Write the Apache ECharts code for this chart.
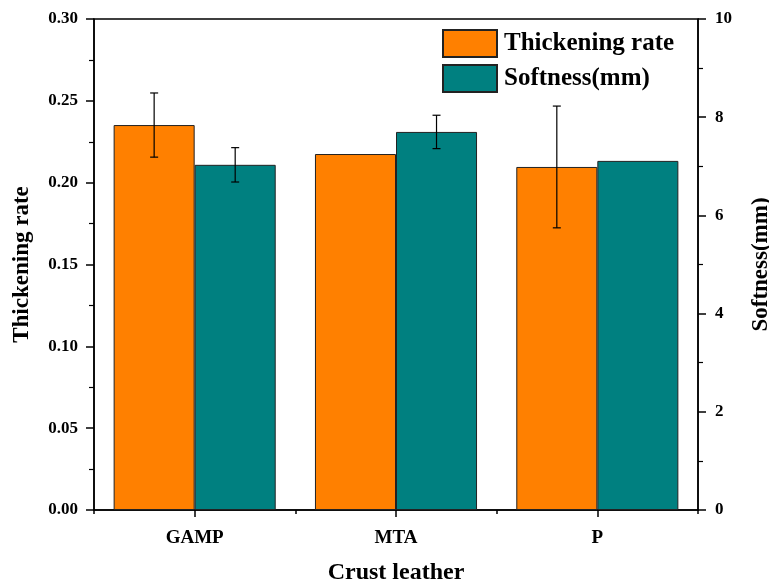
<!DOCTYPE html>
<html>
<head>
<meta charset="utf-8">
<script src="https://cdn.jsdelivr.net/npm/echarts@6/dist/echarts.min.js"></script>
<style>html,body{margin:0;padding:0;background:#fff}#c{width:769px;height:584px}</style>
</head>
<body>
<div id="c"></div>
<script>
var categories = ['GAMP', 'MTA', 'P'];
var thickeningRate = [0.2352, 0.2175, 0.2096];
var thickeningErr = [0.0196, 0, 0.0372];
var softness = [7.03, 7.70, 7.11];
var softnessErr = [0.35, 0.34, 0];
var leftTicks = [0, 0.05, 0.10, 0.15, 0.20, 0.25, 0.30];
var rightTicks = [0, 2, 4, 6, 8, 10];

var FONT = '"Liberation Serif", "Times New Roman", serif';
var ORANGE = '#FF8000';
var TEAL = '#008080';
var GAP = 0.195;

function errorSeries(name, values, errs, yIdx, side) {
  var data = values.map(function (v, i) { return [i, v - errs[i], v + errs[i], errs[i]]; });
  return {
    type: 'custom',
    name: name,
    yAxisIndex: yIdx,
    silent: true,
    z: 10,
    encode: { x: 0, y: [1, 2] },
    data: data,
    renderItem: function (params, api) {
      if (api.value(3) === 0) return null;
      var band = api.size([1, 0])[0];
      var off = side * band * (1 - GAP) / 4;
      var lo = api.coord([api.value(0), api.value(1)]);
      var hi = api.coord([api.value(0), api.value(2)]);
      var x = lo[0] + off;
      var cw = 4;
      var st = { stroke: '#000', lineWidth: 1.2 };
      return {
        type: 'group',
        children: [
          { type: 'line', shape: { x1: x, y1: lo[1], x2: x, y2: hi[1] }, style: st },
          { type: 'line', shape: { x1: x - cw, y1: lo[1], x2: x + cw, y2: lo[1] }, style: st },
          { type: 'line', shape: { x1: x - cw, y1: hi[1], x2: x + cw, y2: hi[1] }, style: st }
        ]
      };
    }
  };
}

var chart = echarts.init(document.getElementById('c'));
chart.setOption({
  backgroundColor: '#fff',
  animation: false,
  textStyle: { fontFamily: FONT, color: '#000' },
  grid: { left: 94, right: 71, top: 19, bottom: 74, show: true, borderColor: '#000', borderWidth: 1.5, containLabel: false, outerBoundsMode: 'none' },
  legend: {
    orient: 'vertical',
    left: 437,
    top: 24,
    itemWidth: 54,
    itemHeight: 27,
    itemGap: 6,
    icon: 'rect',
    data: ['Thickening rate', 'Softness(mm)'],
    textStyle: { fontFamily: FONT, fontWeight: 'bold', fontSize: 25, color: '#000', padding: [0, 0, 0, 2] }
  },
  xAxis: [
    {
      type: 'category',
      data: categories,
      boundaryGap: true,
      name: 'Crust leather',
      nameLocation: 'middle',
      nameGap: 51,
      nameTextStyle: { fontFamily: FONT, fontWeight: 'bold', fontSize: 24, color: '#000' },
      axisLine: { lineStyle: { color: '#000', width: 1.5 } },
      axisTick: { show: true, length: 4, inside: false, lineStyle: { color: '#000', width: 1.5 } },
      axisLabel: { fontFamily: FONT, fontWeight: 'bold', fontSize: 19, color: '#000', margin: 19 }
    },
    {
      type: 'category',
      data: categories,
      position: 'bottom',
      axisLine: { show: false },
      axisTick: { show: true, alignWithLabel: true, length: 7, lineStyle: { color: '#000', width: 1.5 } },
      axisLabel: { show: false }
    }
  ],
  yAxis: [
    {
      type: 'value',
      min: 0, max: 0.3, interval: 0.05,
      name: 'Thickening rate',
      nameLocation: 'middle',
      nameGap: 60,
      nameTextStyle: { fontFamily: FONT, fontWeight: 'bold', fontSize: 23, color: '#000' },
      axisLine: { show: true, lineStyle: { color: '#000', width: 1.5 } },
      axisTick: { show: true, length: 8, lineStyle: { color: '#000', width: 1.5 } },
      minorTick: { show: true, splitNumber: 2, length: 5, lineStyle: { color: '#000', width: 1.2 } },
      splitLine: { show: false },
      axisLabel: {
        fontFamily: FONT, fontWeight: 'bold', fontSize: 17, color: '#000', margin: 16,
        formatter: function (v) { return leftTicks.indexOf(+v.toFixed(2)) >= 0 ? v.toFixed(2) : ''; }
      }
    },
    {
      type: 'value',
      min: 0, max: 10, interval: 2,
      position: 'right',
      name: 'Softness(mm)',
      nameLocation: 'middle',
      nameGap: 52,
      nameTextStyle: { fontFamily: FONT, fontWeight: 'bold', fontSize: 23, color: '#000' },
      axisLine: { show: true, lineStyle: { color: '#000', width: 1.5 } },
      axisTick: { show: true, length: 8, lineStyle: { color: '#000', width: 1.5 } },
      minorTick: { show: true, splitNumber: 2, length: 5, lineStyle: { color: '#000', width: 1.2 } },
      splitLine: { show: false },
      axisLabel: {
        fontFamily: FONT, fontWeight: 'bold', fontSize: 17, color: '#000', margin: 17,
        formatter: function (v) { return rightTicks.indexOf(v) >= 0 ? String(v) : ''; }
      }
    }
  ],
  series: [
    {
      type: 'bar',
      name: 'Thickening rate',
      yAxisIndex: 0,
      data: thickeningRate,
      barGap: '0%',
      barCategoryGap: (GAP * 100) + '%',
      itemStyle: { color: ORANGE, borderColor: '#222', borderWidth: 1 }
    },
    {
      type: 'bar',
      name: 'Softness(mm)',
      yAxisIndex: 1,
      data: softness,
      barGap: '0%',
      barCategoryGap: (GAP * 100) + '%',
      itemStyle: { color: TEAL, borderColor: '#222', borderWidth: 1 }
    },
    errorSeries('errT', thickeningRate, thickeningErr, 0, -1),
    errorSeries('errS', softness, softnessErr, 1, 1)
  ]
});
</script>
</body>
</html>
